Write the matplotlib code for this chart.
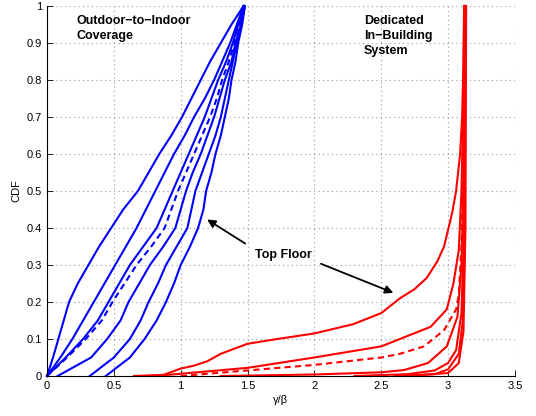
import numpy as np
import matplotlib.pyplot as plt

plt.rcParams['font.family'] = ['Liberation Sans', 'DejaVu Sans']

# CDF levels shared by the blue (outdoor-to-indoor) curves
cdf_levels = [0, 0.05, 0.1, 0.15, 0.2, 0.25, 0.3, 0.35, 0.4, 0.45, 0.5,
              0.55, 0.6, 0.65, 0.7, 0.75, 0.8, 0.85, 0.9, 0.95, 1.0]

# gamma/beta at each CDF level, one list per floor (last = top floor)
blue_floors = [
    [0, 0.045, 0.085, 0.125, 0.165, 0.23, 0.31, 0.39, 0.48, 0.57, 0.68,
     0.76, 0.84, 0.93, 1.01, 1.08, 1.15, 1.22, 1.30, 1.38, 1.47],
    [0, 0.10, 0.19, 0.27, 0.35, 0.43, 0.51, 0.59, 0.67, 0.74, 0.81,
     0.88, 0.95, 1.03, 1.10, 1.18, 1.25, 1.31, 1.37, 1.42, 1.47],
    [0, 0.14, 0.27, 0.38, 0.46, 0.54, 0.62, 0.72, 0.82, 0.88, 0.94,
     1.00, 1.06, 1.12, 1.18, 1.23, 1.28, 1.34, 1.39, 1.43, 1.47],
    [0.08, 0.33, 0.45, 0.55, 0.61, 0.69, 0.77, 0.87, 0.96, 1.00, 1.04,
     1.09, 1.15, 1.20, 1.25, 1.29, 1.33, 1.38, 1.41, 1.45, 1.48],
    [0.32, 0.50, 0.62, 0.70, 0.76, 0.83, 0.89, 0.97, 1.05, 1.08, 1.11,
     1.16, 1.21, 1.26, 1.30, 1.33, 1.36, 1.39, 1.42, 1.45, 1.48],
    [0.44, 0.62, 0.73, 0.82, 0.89, 0.95, 1.00, 1.07, 1.13, 1.17, 1.19,
     1.23, 1.26, 1.30, 1.33, 1.36, 1.38, 1.41, 1.43, 1.46, 1.48],
]
blue_mean = [0, 0.15, 0.29, 0.41, 0.49, 0.58, 0.67, 0.78, 0.88, 0.93, 0.98,
             1.04, 1.10, 1.16, 1.22, 1.27, 1.31, 1.36, 1.40, 1.44, 1.47]

# dedicated in-building system curves, (gamma/beta, CDF) pairs; first = top floor
red_floors = [
    ([0.65, 0.87, 1.0, 1.1, 1.2, 1.3, 1.5, 1.67, 2.0, 2.29, 2.5, 2.64, 2.75, 2.84,
      2.92, 2.97, 3.03, 3.06, 3.09, 3.105, 3.115, 3.12],
     [0, 0.003, 0.02, 0.028, 0.04, 0.06, 0.087, 0.097, 0.115, 0.14, 0.17, 0.21,
      0.235, 0.265, 0.31, 0.35, 0.44, 0.50, 0.60, 0.70, 0.85, 1.0]),
    ([0.8, 1.0, 1.5, 2.0, 2.5, 2.64, 2.87, 2.99, 3.04, 3.08, 3.10, 3.115, 3.12],
     [0, 0.006, 0.022, 0.05, 0.08, 0.10, 0.133, 0.18, 0.25, 0.34, 0.5, 0.75, 1.0]),
    ([1.3, 2.0, 2.5, 2.67, 2.85, 2.99, 3.07, 3.10, 3.12, 3.125],
     [0, 0.004, 0.01, 0.016, 0.035, 0.08, 0.16, 0.30, 0.6, 1.0]),
    ([2.3, 2.7, 2.9, 3.0, 3.06, 3.10, 3.12, 3.13],
     [0, 0.005, 0.015, 0.035, 0.07, 0.17, 0.4, 1.0]),
    ([2.6, 2.9, 3.0, 3.08, 3.11, 3.125, 3.13],
     [0, 0.005, 0.018, 0.06, 0.15, 0.4, 1.0]),
    ([2.7, 3.0, 3.08, 3.115, 3.13, 3.135],
     [0, 0.008, 0.035, 0.12, 0.4, 1.0]),
]
red_mean_x = [1.0, 1.5, 2.0, 2.5, 2.64, 2.82, 2.97, 3.06, 3.08, 3.10, 3.115, 3.12]
red_mean_y = [0, 0.015, 0.03, 0.05, 0.06, 0.08, 0.124, 0.18, 0.22, 0.35, 0.6, 1.0]

fig = plt.figure(figsize=(5.36, 4.16), dpi=100)
ax = fig.add_axes([0.0877, 0.0962, 0.873, 0.8894])

lw = 1.5
for xs, ys in red_floors:
    ax.plot(xs, ys, color='red', lw=lw, clip_on=False)
ax.plot(red_mean_x, red_mean_y, color='red', lw=lw, ls=(0, (3, 2)), clip_on=False)

for xs in blue_floors:
    ax.plot(xs, cdf_levels, color='blue', lw=lw, clip_on=False)
ax.plot(blue_mean, cdf_levels, color='blue', lw=lw, ls=(0, (3, 2)), clip_on=False)

ax.set_xlim(0, 3.5)
ax.set_ylim(0, 1)
ax.set_xticks(np.arange(0, 3.51, 0.5))
ax.set_xticklabels(['0', '0.5', '1', '1.5', '2', '2.5', '3', '3.5'])
ax.set_yticks(np.arange(0, 1.01, 0.1))
ax.set_yticklabels(['0'] + ['%.1f' % v for v in np.arange(0.1, 0.95, 0.1)] + ['1'])
ax.tick_params(direction='in', length=4, labelsize=8, width=0.6)
ax.grid(True, color='#999999', ls=(0, (1, 3)), lw=0.8)
ax.spines['top'].set_visible(False)
ax.spines['right'].set_visible(False)
ax.spines['left'].set_linewidth(0.8)
ax.spines['bottom'].set_linewidth(0.8)

ax.set_xlabel('γ/β', fontsize=8, labelpad=3)
ax.set_ylabel('CDF', fontsize=8, labelpad=4)

ax.text(0.22, 0.977, 'Outdoor\u2212to\u2212Indoor\nCoverage', fontsize=9, fontweight='bold',
        va='top', ha='left', linespacing=1.35)
ax.text(2.37, 0.977, 'Dedicated\nIn\u2212Building\nSystem', fontsize=9, fontweight='bold',
        va='top', ha='left', linespacing=1.35)
ax.text(1.77, 0.327, 'Top Floor', fontsize=9, fontweight='bold', ha='center', va='center')

arrow = dict(arrowstyle='-|>', color='black', lw=1.3, mutation_scale=12)
ax.annotate('', xy=(1.18, 0.427), xytext=(1.50, 0.354), arrowprops=arrow)
ax.annotate('', xy=(2.61, 0.222), xytext=(2.03, 0.306), arrowprops=arrow)

fig.savefig('out.png', dpi=100)
